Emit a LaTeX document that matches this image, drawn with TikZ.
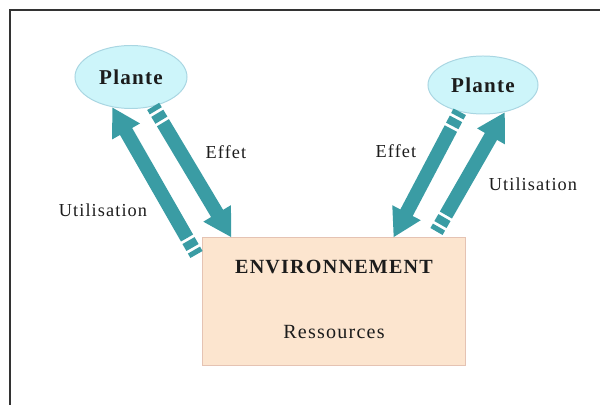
\documentclass[tikz,border=0pt]{standalone}
\usepackage{fontspec}
\setmainfont{Liberation Serif}[LetterSpace=6]
\usetikzlibrary{positioning,calc,shapes.geometric,arrows.meta}
\definecolor{plantfill}{HTML}{CDF5FA}
\definecolor{plantline}{HTML}{A9D6E2}
\definecolor{envfill}{HTML}{FCE5CF}
\definecolor{envline}{HTML}{E5C3B3}
\definecolor{flux}{HTML}{3A9CA4}
\definecolor{encre}{HTML}{1C1C1C}
\tikzstyle{plante} = [ellipse,
					  draw=plantline,
					  line width=0.7pt,
					  fill=plantfill,
					  inner sep=0pt,
					  text=encre,
					  font=\fontsize{15}{18}\selectfont\bfseries]
\tikzstyle{milieu} = [rectangle,
					  draw=envline,
					  line width=0.7pt,
					  fill=envfill,
					  minimum width=6.55cm,
					  minimum height=3.175cm]
\tikzstyle{fleche} = [draw=flux,
					  line width=0.35cm,
					  dash pattern=on 3.6pt off 2.1pt on 5.7pt off 2.1pt on 400pt,
					  -{Triangle[width=0.75cm,length=0.7cm]}]
\tikzstyle{etiquette} = [text=encre,
						 font=\fontsize{13}{15}\selectfont]

\begin{document}
\begin{tikzpicture}[x=0.025cm, y=-0.025cm]
	\useasboundingbox (0,0) rectangle (600,405);
	\clip (0,0) rectangle (600,405);
	\draw[line width=1.4pt, draw=black!80] (10,420) -- (10,10) -- (620,10);

	%%%%%%%%%%%%
	% NODES    %
	%%%%%%%%%%%%
	\node[plante, minimum width=2.8cm, minimum height=1.575cm] (plL) at (131,77) {Plante};
	\node[plante, minimum width=2.75cm, minimum height=1.45cm] (plR) at (483,85) {Plante};
	\node[milieu] (env) at (334,301.5) {};
	\node[text=encre, font=\fontsize{14.3}{17}\selectfont\bfseries, below=0.45cm of env.north] (envnom) {ENVIRONNEMENT};
	\node[text=encre, font=\fontsize{14.3}{17}\selectfont, above=0.55cm of env.south] (res) {Ressources};

	%%%%%%%%%%%%
	% ARROWS   %
	%%%%%%%%%%%%
	\coordinate (effL) at ($(env.north west)+(29,0)$);
	\coordinate (utiL) at ($(env.north west)+(-6,17)$);
	\coordinate (effR) at ($(env.north west)+(191,0)$);
	\coordinate (utiR) at ($(env.north west)+(234,-6)$);
	\draw[fleche] (plL.307) -- (effL);
	\draw[fleche] (utiL) -- (plL.238.5);
	\draw[fleche] (plR.229) -- (effR);
	\draw[fleche] (utiR) -- (plR.309);

	%%%%%%%%%%%%
	% LABELS   %
	%%%%%%%%%%%%
	\node[etiquette] (lEffL) at (226,152) {Effet};
	\node[etiquette] (lUtiL) at (103,210) {Utilisation};
	\node[etiquette] (lEffR) at (396,151) {Effet};
	\node[etiquette] (lUtiR) at (533,184) {Utilisation};
\end{tikzpicture}
\end{document}
